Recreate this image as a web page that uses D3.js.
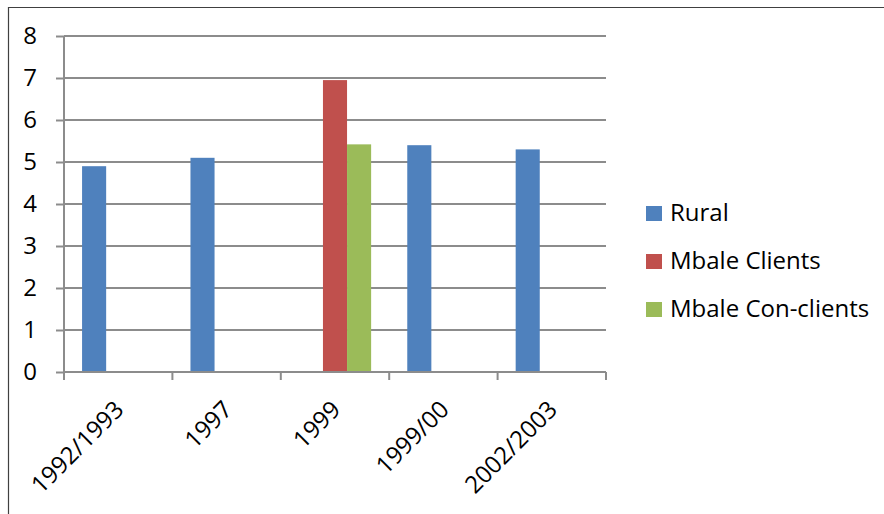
<!DOCTYPE html>
<html>
<head>
<meta charset="utf-8">
<script src="https://cdn.jsdelivr.net/npm/d3@7"></script>
<style>
  html, body { margin: 0; padding: 0; background: #fff; }
  svg { display: block; }
  text { font-family: "Open Sans", Lato, sans-serif; fill: #000; }
</style>
</head>
<body>
<svg id="chart" width="884" height="514"></svg>
<script>
// Survey periods along the x axis
const categories = ["1992/1993", "1997", "1999", "1999/00", "2002/2003"];
// Series names and their values per period (null = no bar)
const seriesNames = ["Rural", "Mbale Clients", "Mbale Con-clients"];
const rural = [4.9, 5.1, null, 5.4, 5.3];
const mbaleClients = [null, null, 6.95, null, null];
const mbaleConClients = [null, null, 5.42, null, null];
const yTicks = [0, 1, 2, 3, 4, 5, 6, 7, 8];
const colors = ["#4F81BD", "#C0504D", "#9BBB59"];

const seriesValues = [rural, mbaleClients, mbaleConClients];

const svg = d3.select("#chart");
const plot = { left: 64, right: 606, top: 36, bottom: 372 };
const fontSize = "24px";

// Outer frame (left and top edges)
svg.append("path")
  .attr("d", `M8.5,514 V7.5 H884`)
  .attr("fill", "none")
  .attr("stroke", "#404040")
  .attr("stroke-width", 1.2);

const x0 = d3.scaleBand().domain(categories).range([plot.left, plot.right]).padding(0);
const x1 = d3.scaleBand().domain(seriesNames).range([0, x0.bandwidth()])
  .paddingInner(0).paddingOuter(0.75);
const y = d3.scaleLinear().domain([0, 8]).range([plot.bottom, plot.top]);

const gridColor = "#8c8c8c";

// Horizontal gridlines
svg.append("g")
  .selectAll("line")
  .data(yTicks.filter(d => d > 0))
  .join("line")
  .attr("x1", plot.left).attr("x2", plot.right)
  .attr("y1", d => y(d)).attr("y2", d => y(d))
  .attr("stroke", gridColor).attr("stroke-width", 2);

// Bars
seriesNames.forEach((name, si) => {
  svg.append("g")
    .selectAll("rect")
    .data(categories.map((c, i) => ({ c, v: seriesValues[si][i] })).filter(d => d.v != null))
    .join("rect")
    .attr("x", d => x0(d.c) + x1(name))
    .attr("width", x1.bandwidth())
    .attr("y", d => y(d.v))
    .attr("height", d => y(0) - y(d.v))
    .attr("fill", colors[si]);
});

// Y axis
const yAxis = svg.append("g")
  .attr("transform", `translate(${plot.left},0)`)
  .call(d3.axisLeft(y).tickValues(yTicks).tickSize(8).tickPadding(19).tickFormat(d3.format("d")));
yAxis.select(".domain").attr("stroke", gridColor).attr("stroke-width", 2)
  .attr("d", `M0,${plot.top}V${plot.bottom + 8}`);
yAxis.selectAll(".tick line").attr("stroke", gridColor).attr("stroke-width", 2);
yAxis.selectAll(".tick text").style("font-size", fontSize).attr("fill", "#000");

// X axis: baseline, boundary ticks, rotated labels
const xg = svg.append("g");
xg.append("line")
  .attr("x1", plot.left).attr("x2", plot.right)
  .attr("y1", plot.bottom).attr("y2", plot.bottom)
  .attr("stroke", gridColor).attr("stroke-width", 2);
const bounds = categories.map(c => x0(c)).concat([plot.right]);
xg.selectAll("line.tk")
  .data(bounds)
  .join("line")
  .attr("class", "tk")
  .attr("x1", d => d).attr("x2", d => d)
  .attr("y1", plot.bottom).attr("y2", plot.bottom + 8)
  .attr("stroke", gridColor).attr("stroke-width", 2);
xg.selectAll("text")
  .data(categories)
  .join("text")
  .attr("transform", d => `translate(${x0(d) + x0.bandwidth() / 2 + 7},${plot.bottom + 39}) rotate(-45)`)
  .attr("text-anchor", "end")
  .style("font-size", fontSize)
  .text(d => d);

// Legend
const legend = svg.append("g").attr("transform", "translate(646,206)");
seriesNames.forEach((name, i) => {
  const g = legend.append("g").attr("transform", `translate(0,${i * 48})`);
  g.append("rect").attr("width", 16).attr("height", 15).attr("fill", colors[i]);
  g.append("text").attr("x", 24).attr("y", 15).style("font-size", fontSize).text(name);
});
</script>
</body>
</html>
